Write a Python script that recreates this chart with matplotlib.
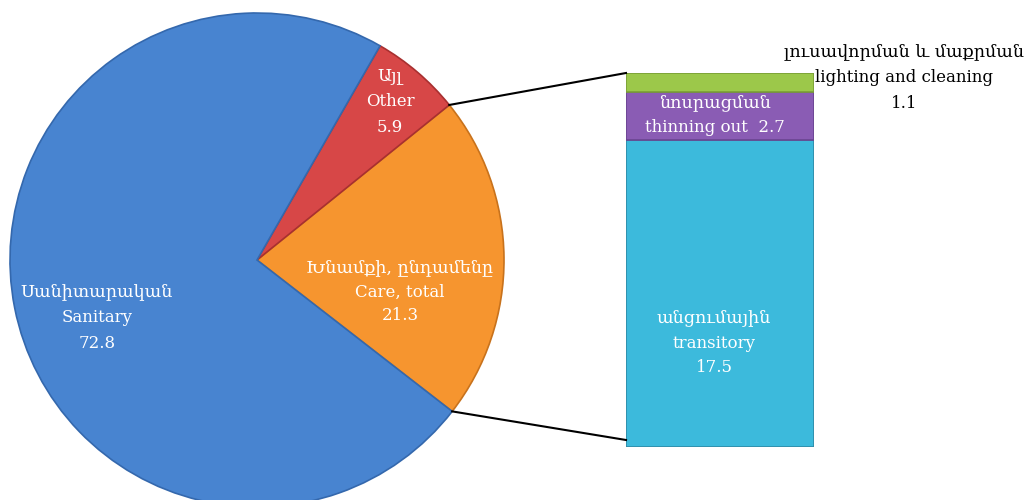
import matplotlib
matplotlib.use("Agg")
import matplotlib.pyplot as plt
import numpy as np

# ---- data ----
pie_labels = ["Խնամքի, ընդամենը\nCare, total\n21.3", "Այլ\nOther\n5.9", "Սանիտարական\nSanitary\n72.8"]
pie_values = [21.3, 5.9, 72.8]
pie_colors = ["#f6952f", "#d74747", "#4884d0"]
pie_edges = ["#c8721c", "#a83030", "#3468ad"]

bar_labels = ["անցումային\ntransitory\n17.5", "նոսրացման\nthinning out  2.7", "լուսավորման և մաքրման\nlighting and cleaning\n1.1"]
bar_values = [17.5, 2.7, 1.1]
bar_colors = ["#3cbadc", "#8a5cb4", "#9cc84a"]
bar_edges = ["#2f8ba6", "#6a4490", "#7a9e36"]

FONT = ["DejaVu Serif", "DejaVu Sans"]

W, H = 1026, 500
fig = plt.figure(figsize=(W / 100, H / 100), dpi=100)

# bar axes (drawn underneath the overlay axes)
bx0, bx1 = 626, 814
by_top, by_bot = 73, 447
bax = fig.add_axes([bx0 / W, (H - by_bot) / H, (bx1 - bx0) / W, (by_bot - by_top) / H])
bax.set_xlim(-0.5, 0.5)
bax.set_ylim(0, sum(bar_values))
bax.axis("off")
bax.set_zorder(1)
bottom = 0
for v, c, ec in zip(bar_values, bar_colors, bar_edges):
    bax.bar(0, v, width=1.0, bottom=bottom, color=c, edgecolor=ec, linewidth=1.2)
    bottom += v

# main axes in pixel coordinates (y up)
ax = fig.add_axes([0, 0, 1, 1])
ax.set_zorder(2)
ax.patch.set_visible(False)

cx, cy, r = 257, H - 260, 247
start = -37.8
wedges, _ = ax.pie(pie_values, colors=pie_colors, startangle=start, counterclock=True,
                   center=(cx, cy), radius=r, frame=True,
                   wedgeprops=dict(linewidth=1.2))
for w, ec in zip(wedges, pie_edges):
    w.set_edgecolor(ec)
ax.set_xlim(0, W)
ax.set_ylim(0, H)
ax.set_aspect("equal")
ax.axis("off")


def is_armenian(s):
    return any(0x0530 <= ord(ch) <= 0x058F for ch in s)


def put_label(label, x, y_first, step, color):
    for i, line in enumerate(label.split("\n")):
        size = 12.6 if is_armenian(line) else 12
        ax.text(x, H - (y_first + i * step), line, ha="center", va="center",
                color=color, fontsize=size, family=FONT)


# pie labels: (x, y of first line from top, line step)
pie_text_pos = [(400, 268, 24), (390, 76, 26), (97, 292, 25.5)]
for lab, (x, y, s) in zip(pie_labels, pie_text_pos):
    put_label(lab, x, y, s, "white")

bar_text_pos = [(714, 318, 25), (715, 103, 25), (904, 52, 25.5)]
bar_text_col = ["white", "white", "black"]
for lab, (x, y, s), col in zip(bar_labels, bar_text_pos, bar_text_col):
    put_label(lab, x, y, s, col)

# connector lines from the Care wedge edges to the bar
care = wedges[0]
t1, t2 = np.deg2rad(care.theta1), np.deg2rad(care.theta2)
p_low = (cx + r * np.cos(t1), cy + r * np.sin(t1))
p_high = (cx + r * np.cos(t2), cy + r * np.sin(t2))
ax.plot([p_high[0], bx0], [p_high[1], H - by_top], color="black", lw=1.5)
ax.plot([p_low[0], bx0], [p_low[1], H - by_bot + 7], color="black", lw=1.5)

fig.savefig("out.png", dpi=100)
